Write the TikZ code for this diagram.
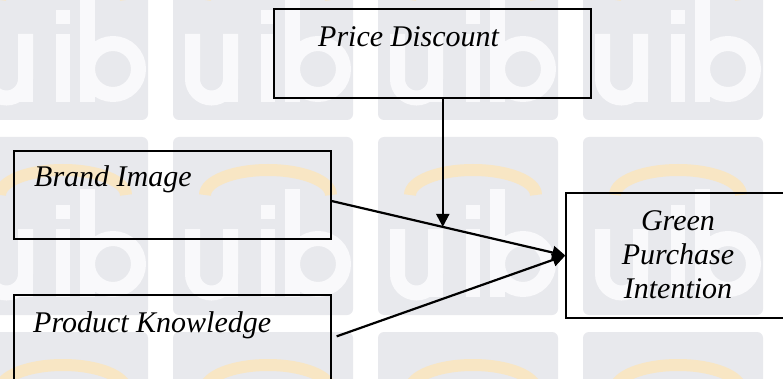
\documentclass[tikz,border=0pt]{standalone}
\usepackage{fontspec}
\setmainfont{Liberation Serif}
\usetikzlibrary{arrows.meta,calc}

\definecolor{wmgray}{HTML}{E8E9ED}
\definecolor{wmorange}{HTML}{F8E6C4}
\definecolor{wmwhite}{HTML}{F9F9FB}

\tikzset{
  box/.style={draw=black, line width=1.3pt, inner sep=0pt},
  lbl/.style={font=\fontsize{30}{34}\selectfont\itshape, inner sep=0pt},
  link/.style={line width=2.2pt, -{Triangle[length=13pt,width=13pt]}}
}

\begin{document}
\begin{tikzpicture}[x=1pt,y=-1pt]
\useasboundingbox (0,0) rectangle (783,379);

% tiled background logo
\begin{scope}
  \clip (0,0) rectangle (783,379);
  \fill[white] (0,0) rectangle (783,379);
  \foreach \i in {0,...,4}{
    \foreach \j in {0,1,2}{
      \pgfmathsetmacro\tx{-32+205*\i}
      \pgfmathsetmacro\ty{-58+195*\j}
      \pgfmathsetmacro\ox{\tx+12}
      \pgfmathsetmacro\by{\ty+160}
      \fill[wmgray, rounded corners=6pt] (\tx,\ty) rectangle ++(180,178);
      \draw[wmorange, line width=12pt] (\tx+32,\ty+58)
        arc[start angle=180, end angle=360, x radius=63, y radius=25];
      % u
      \draw[wmwhite, line width=15pt] (\ox+7.5,\by-68) -- (\ox+7.5,\by-23)
        arc[start angle=180, end angle=0, radius=19] -- (\ox+45.5,\by-68);
      \fill[wmwhite] (\ox+38,\by-68) rectangle (\ox+53,\by);
      % i
      \fill[wmwhite] (\ox+76,\by-68) rectangle (\ox+90,\by);
      \fill[wmwhite] (\ox+76,\by-92) rectangle (\ox+90,\by-78);
      % b
      \fill[wmwhite] (\ox+100,\by-108) rectangle (\ox+115,\by);
      \draw[wmwhite, line width=15pt] (\ox+133,\by-33) circle[radius=25.5];
    }
  }
\end{scope}

% boxes
\node[box, minimum width=317pt, minimum height=89pt] (pd) at (432.5,53.5) {};
\node[box, minimum width=317pt, minimum height=88pt] (bi) at (172.5,195) {};
\node[box, minimum width=317pt, minimum height=120pt] (pk) at (172.5,355) {};
\node[box, minimum width=240pt, minimum height=125pt] (gpi) at (686,255.5) {};

% labels
\node[lbl, anchor=base west] (tpd) at (318,47) {Price Discount};
\node[lbl, anchor=base west] (tbi) at (34,187) {Brand Image};
\node[lbl, anchor=base west] (tpk) at (33,332) {Product Knowledge};
\node[lbl, anchor=base] (tg1) at (678,230) {Green};
\node[lbl, anchor=base] (tg2) at (678,264) {Purchase};
\node[lbl, anchor=base] (tg3) at (678,298) {Intention};

% connectors
\coordinate (biout) at ($(bi.east)+(0,6)$);
\coordinate (pkout) at ($(pk.north east)+(5,42)$);
\coordinate (mod) at ($(biout)!0.4755!(gpi.west)$);
\draw[link] (biout) -- (gpi.west);
\draw[link] (pkout) -- (gpi.west);
\draw[link] (pd.south -| mod) -- (mod);
\end{tikzpicture}
\end{document}
